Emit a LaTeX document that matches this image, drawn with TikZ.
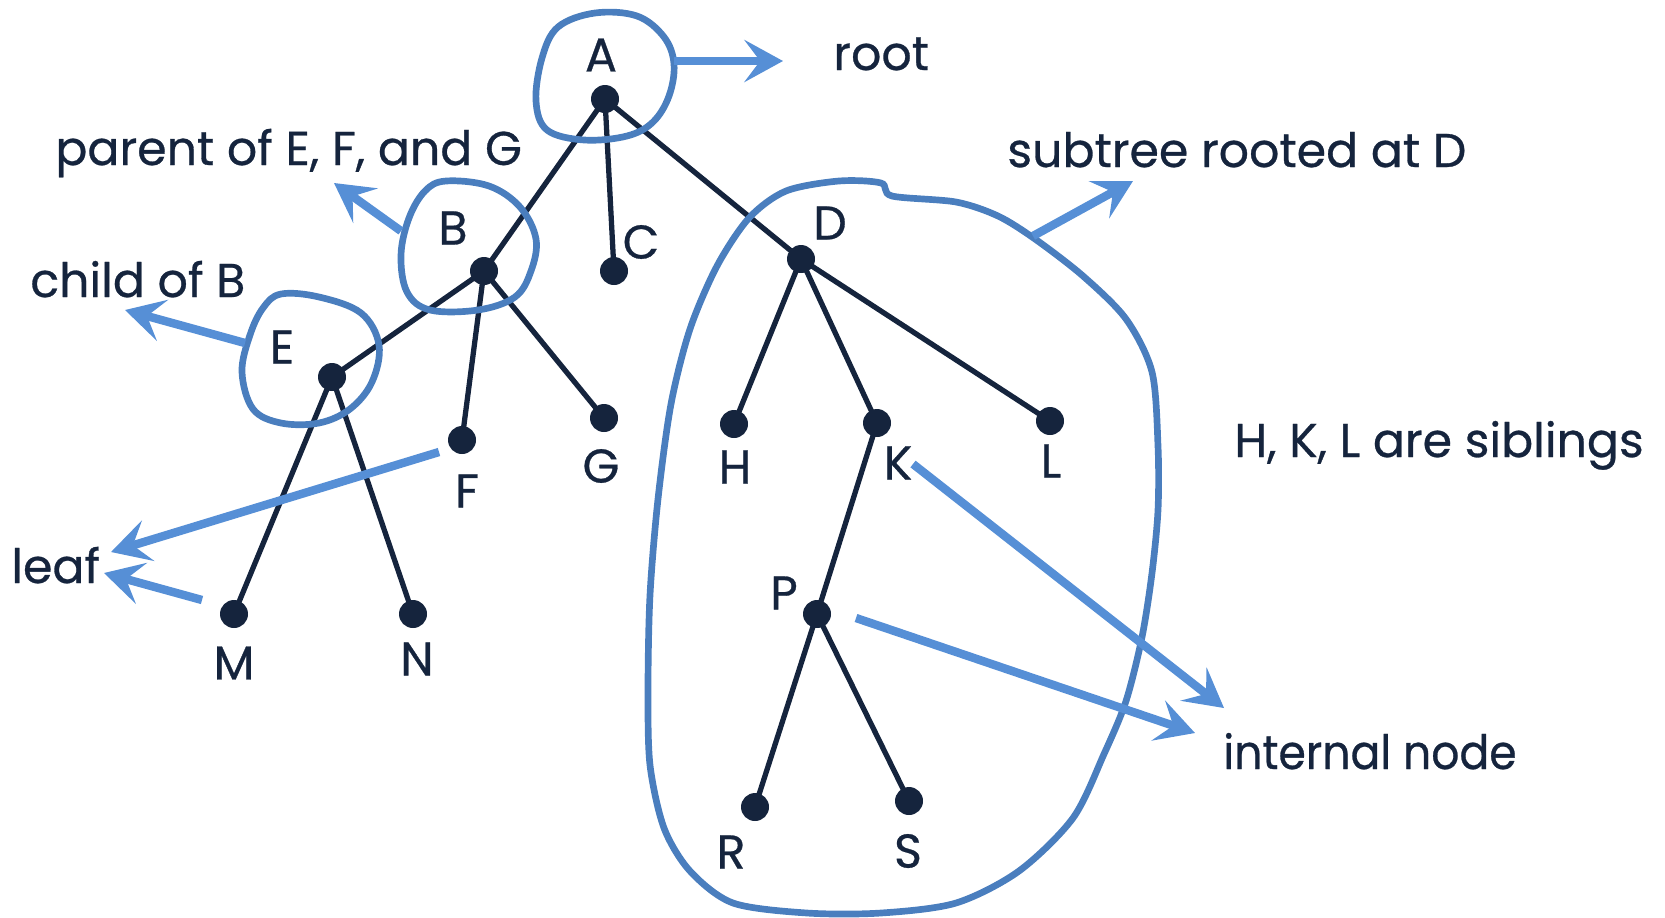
\documentclass[tikz,border=0pt]{standalone}
\usepackage{fontspec}
\setmainfont{Poppins}[FakeBold=0.6]
\usetikzlibrary{arrows.meta}
\definecolor{navy}{HTML}{15243D}
\definecolor{arrblue}{HTML}{568FD6}
\definecolor{blobblue}{HTML}{4A7EBE}
\tikzset{
  dotnode/.style={circle,fill=navy,inner sep=0pt,minimum size=0.56cm},
  lbl/.style={text=navy,font=\fontsize{27}{30}\selectfont,inner sep=0pt},
  note/.style={text=navy,font=\fontsize{27}{30}\selectfont,inner sep=0pt,anchor=base west},
  edge/.style={draw=navy,line width=3pt},
  callout/.style={draw=arrblue,line width=4.8pt,-{Stealth[length=22pt,width=24pt,inset=9pt]}},
  blob/.style={draw=blobblue,line width=3.8pt},
}
\begin{document}
\begin{tikzpicture}[x=0.02cm,y=-0.02cm]
\useasboundingbox (0,0) rectangle (1665,917);
% dots
\node[dotnode] (A) at (605,99) {};
\node[dotnode] (B) at (484,271) {};
\node[dotnode] (C) at (614,271) {};
\node[dotnode] (D) at (801,259) {};
\node[dotnode] (E) at (332,377) {};
\node[dotnode] (F) at (462,440) {};
\node[dotnode] (G) at (604,418) {};
\node[dotnode] (H) at (734,424) {};
\node[dotnode] (K) at (877,423) {};
\node[dotnode] (L) at (1050,421) {};
\node[dotnode] (M) at (234,614) {};
\node[dotnode] (N) at (413,614) {};
\node[dotnode] (P) at (817,614) {};
\node[dotnode] (R) at (755,807) {};
\node[dotnode] (S) at (909,801) {};
% edges
\draw[edge] (A.center) -- (B.center);
\draw[edge] (A.center) -- (C.center);
\draw[edge] (A.center) -- (D.center);
\draw[edge] (B.center) -- (E.center);
\draw[edge] (B.center) -- (F.center);
\draw[edge] (B.center) -- (G.center);
\draw[edge] (E.center) -- (M.center);
\draw[edge] (E.center) -- (N.center);
\draw[edge] (D.center) -- (H.center);
\draw[edge] (D.center) -- (K.center);
\draw[edge] (D.center) -- (L.center);
\draw[edge] (K.center) -- (P.center);
\draw[edge] (P.center) -- (R.center);
\draw[edge] (P.center) -- (S.center);
% letter labels
\node[lbl] (lA) at (601,55) {A};
\node[lbl] (lB) at (453,228) {B};
\node[lbl] (lC) at (641,242) {C};
\node[lbl] (lD) at (830,223) {D};
\node[lbl] (lE) at (282,347) {E};
\node[lbl] (lF) at (467,491) {F};
\node[lbl] (lG) at (601,466) {G};
\node[lbl] (lH) at (735,467) {H};
\node[lbl] (lK) at (898,463) {K};
\node[lbl] (lL) at (1051,461) {L};
\node[lbl] (lM) at (234,663) {M};
\node[lbl] (lN) at (417,659) {N};
\node[lbl] (lP) at (784,593) {P};
\node[lbl] (lR) at (731,852) {R};
\node[lbl] (lS) at (908,851) {S};
% notes
\node[note] (root) at (833,70) {root};
\node[note] (parent) at (55,165) {parent of E, F, and G};
\node[note] (child) at (30,297) {child of B};
\node[note] (leaf) at (11,583) {leaf};
\node[note] (subtree) at (1007,167) {subtree rooted at D};
\node[note] (sib) at (1234,457) {H, K, L are siblings};
\node[note,xscale=0.93] (internal) at (1223,769) {internal node};
% blobs
\draw[blob] plot[smooth cycle,tension=0.6] coordinates {(595,13) (637,16) (664,37) (674,64) (669,96) (653,122) (627,136) (584,140) (547,130) (536,101) (542,58) (558,27)};
\draw[blob] plot[smooth cycle,tension=0.6] coordinates {(446,181) (489,186) (520,207) (536,239) (531,271) (515,297) (478,310) (430,310) (407,292) (401,255) (409,218) (425,191)};
\draw[blob] plot[smooth cycle,tension=0.6] coordinates {(281,294) (319,297) (361,313) (379,345) (372,382) (350,409) (319,423) (281,423) (253,409) (242,372) (250,335) (263,308)};
\draw[blob] plot[smooth cycle,tension=0.5] coordinates {(786,191) (839,181) (881,183) (892,196) (956,202) (998,216) (1035,239) (1083,276) (1126,319) (1152,372) (1158,446) (1158,510) (1152,573) (1142,637) (1126,701) (1104,754) (1073,818) (1019,871) (956,903) (881,913) (807,913) (733,903) (690,871) (664,828) (650,765) (648,690) (650,595) (658,499) (671,404) (690,329) (717,266) (749,218)};
% callout arrows
\coordinate (rs) at (674,61);   \coordinate (rt) at (783,61);
\coordinate (ps) at (401,231);  \coordinate (pt) at (334,183);
\coordinate (cs) at (245,343);  \coordinate (ct) at (125,310);
\coordinate (l1s) at (439,452); \coordinate (l1t) at (111,552);
\coordinate (l2s) at (202,600); \coordinate (l2t) at (104,573);
\coordinate (ss) at (1033,236); \coordinate (st) at (1133,181);
\coordinate (ks) at (913,464);  \coordinate (kt) at (1224,708);
\coordinate (pps) at (856,618); \coordinate (ppt) at (1195,733);
\draw[callout] (rs) -- (rt);
\draw[callout] (ps) -- (pt);
\draw[callout] (cs) -- (ct);
\draw[callout] (l1s) -- (l1t);
\draw[callout] (l2s) -- (l2t);
\draw[callout] (ss) -- (st);
\draw[callout] (ks) -- (kt);
\draw[callout] (pps) -- (ppt);
\end{tikzpicture}
\end{document}
